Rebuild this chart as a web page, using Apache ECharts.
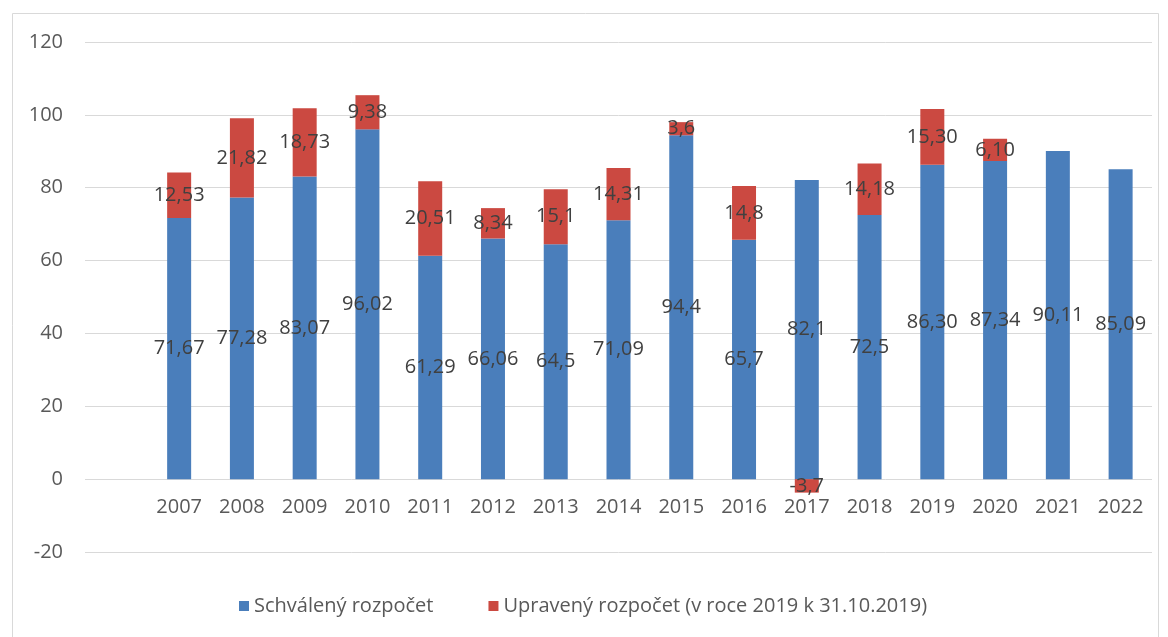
<!DOCTYPE html>
<html>
<head>
<meta charset="utf-8">
<script src="https://cdn.jsdelivr.net/npm/echarts@6/dist/echarts.min.js"></script>
<style>
html,body{margin:0;padding:0;background:#fff;}
#chart{width:1168px;height:637px;}
</style>
</head>
<body>
<div id="chart"></div>
<script>
// Categories (first one is an empty slot, as in the original Excel chart)
var categories = ['', '2007','2008','2009','2010','2011','2012','2013','2014','2015','2016','2017','2018','2019','2020','2021','2022'];
// Schválený rozpočet
var approved = [null, 71.67, 77.28, 83.07, 96.02, 61.29, 66.06, 64.5, 71.09, 94.4, 65.7, 82.1, 72.5, 86.30, 87.34, 90.11, 85.09];
var approvedLabels = ['', '71,67','77,28','83,07','96,02','61,29','66,06','64,5','71,09','94,4','65,7','82,1','72,5','86,30','87,34','90,11','85,09'];
// Upravený rozpočet (v roce 2019 k 31.10.2019)
var adjusted = [null, 12.53, 21.82, 18.73, 9.38, 20.51, 8.34, 15.1, 14.31, 3.6, 14.8, -3.7, 14.18, 15.30, 6.10, null, null];
var adjustedLabels = ['', '12,53','21,82','18,73','9,38','20,51','8,34','15,1','14,31','3,6','14,8','-3,7','14,18','15,30','6,10','',''];
var seriesNames = ['Schválený rozpočet', 'Upravený rozpočet (v roce 2019 k 31.10.2019)'];
var yTicks = {min: -20, max: 120, interval: 20};

var FONT = 'Open Sans';
var FS = 20;
var chart = echarts.init(document.getElementById('chart'));
chart.setOption({
  animation: false,
  backgroundColor: '#ffffff',
  textStyle: {fontFamily: FONT},
  graphic: [{
    type: 'rect',
    shape: {x: 12.5, y: 13.5, width: 1146, height: 640},
    style: {fill: 'none', stroke: '#d9d9d9', lineWidth: 1},
    silent: true, z: -1
  }],
  grid: {left: 85, right: 16, top: 42, bottom: 85, containLabel: false},
  legend: {
    left: 234, top: 591,
    icon: 'rect', itemWidth: 10, itemHeight: 10, itemGap: 55,
    textStyle: {fontFamily: FONT, fontSize: FS, color: '#595959'},
    data: seriesNames
  },
  xAxis: {
    type: 'category',
    data: categories,
    axisLine: {show: false},
    axisTick: {show: false},
    axisLabel: {color: '#595959', fontSize: FS, fontFamily: FONT, margin: 18, interval: 0},
    splitLine: {show: false}
  },
  yAxis: {
    type: 'value',
    min: yTicks.min, max: yTicks.max, interval: yTicks.interval,
    axisLine: {show: false},
    axisTick: {show: false},
    axisLabel: {color: '#595959', fontSize: FS, fontFamily: FONT, margin: 22},
    splitLine: {lineStyle: {color: '#d9d9d9', width: 1}}
  },
  series: [{
    name: seriesNames[0],
    type: 'bar',
    stack: 'total',
    barWidth: 24,
    itemStyle: {color: '#4a7ebb'},
    label: {
      show: true, position: 'inside', color: '#404040', fontSize: FS, fontFamily: FONT,
      formatter: function (p) { return approvedLabels[p.dataIndex]; }
    },
    data: approved
  }, {
    name: seriesNames[1],
    type: 'bar',
    stack: 'total',
    barWidth: 24,
    itemStyle: {color: '#cb4941'},
    label: {
      show: true, position: 'inside', color: '#404040', fontSize: FS, fontFamily: FONT,
      formatter: function (p) { return adjustedLabels[p.dataIndex]; }
    },
    data: adjusted
  }]
});
// Move the category labels up to the zero line (as in the original chart)
var zeroY = chart.convertToPixel({yAxisIndex: 0}, 0);
var minY = chart.convertToPixel({yAxisIndex: 0}, yTicks.min);
chart.setOption({xAxis: {offset: -(minY - zeroY)}});
</script>
</body>
</html>
